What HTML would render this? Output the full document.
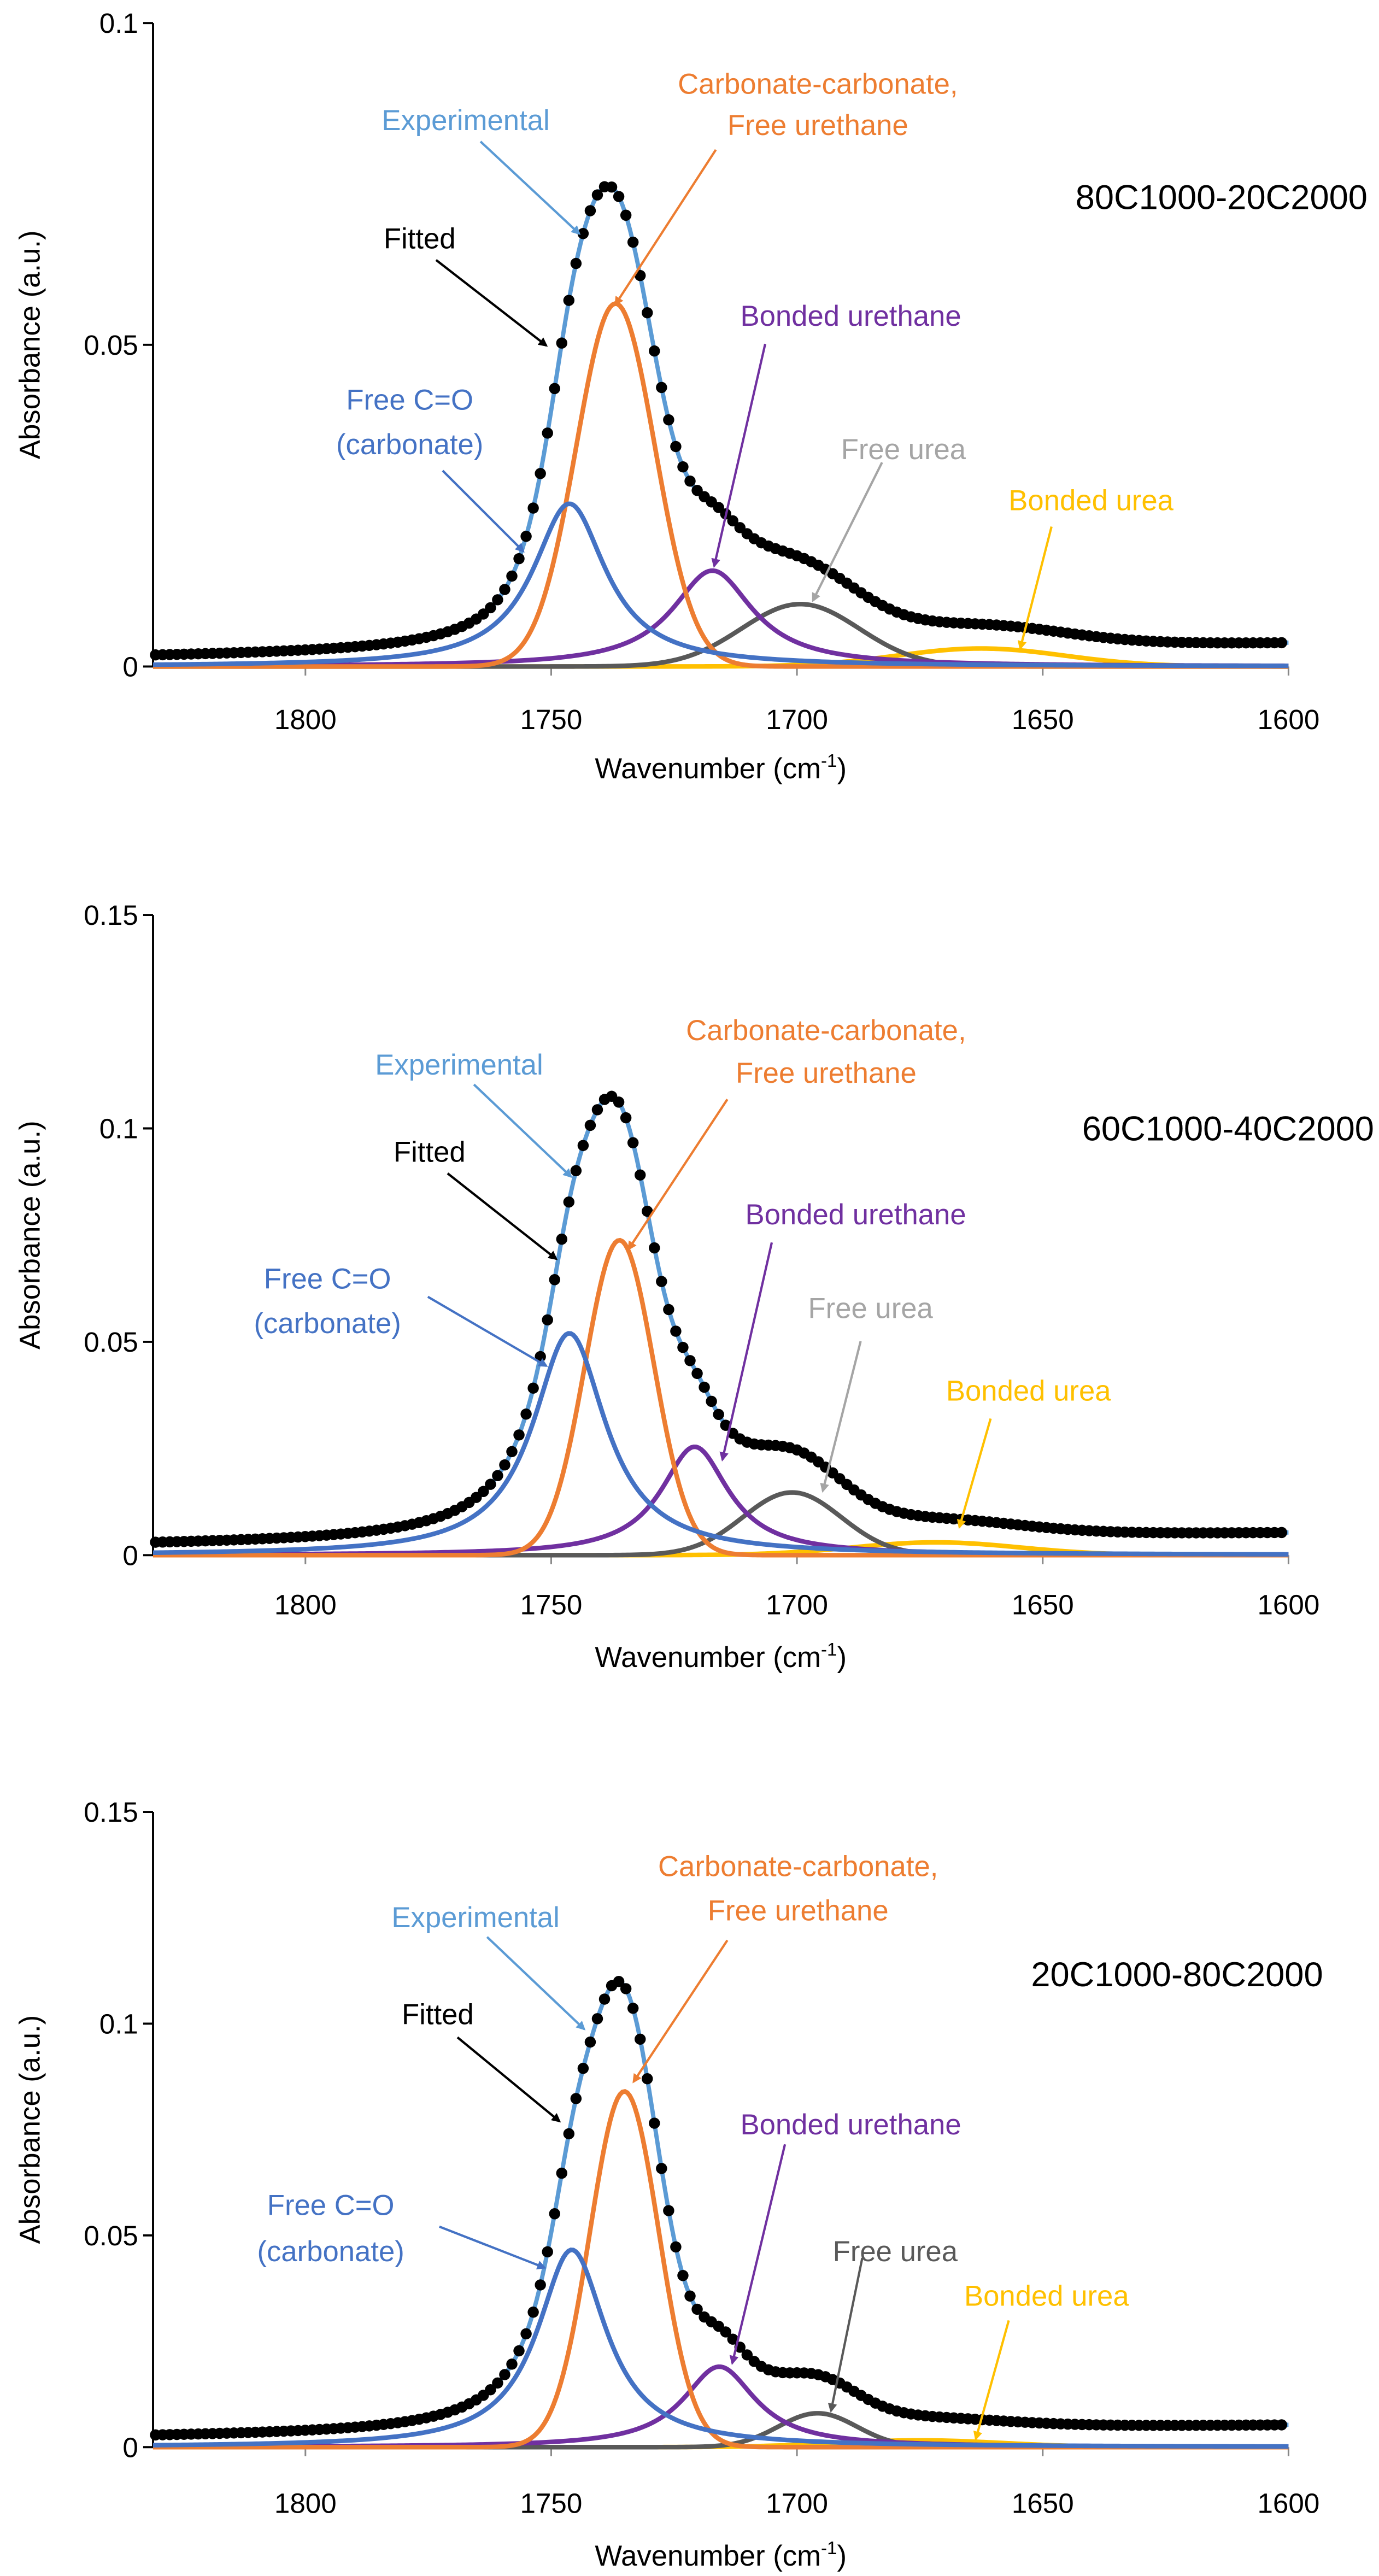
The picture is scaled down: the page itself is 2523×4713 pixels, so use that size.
<!DOCTYPE html>
<html><head><meta charset="utf-8"><style>
html,body{margin:0;padding:0;background:#fff}
svg{display:block}
text{font-family:"Liberation Sans",Arial,sans-serif}
</style></head><body>
<svg id="chart" width="2523" height="4713" viewBox="0 0 838 1565.3" preserveAspectRatio="none" xmlns="http://www.w3.org/2000/svg"></svg>
<script>
// ---- data ----
const sampleNames = ["80C1000-20C2000","60C1000-40C2000","20C1000-80C2000"];
const yMaxes = [0.1, 0.15, 0.15];
const yTicks1 = [0, 0.05, 0.1];
const yTicks23 = [0, 0.05, 0.1, 0.15];
const xTicks = [1800, 1750, 1700, 1650, 1600];
const componentNames = ["Free C=O (carbonate)","Carbonate-carbonate, Free urethane","Bonded urethane","Free urea","Bonded urea"];
// per-panel component peak centers (cm-1)
const centers1 = [1746.3, 1736.9, 1717.2, 1699.3, 1662.6];
const centers2 = [1746.3, 1736.1, 1720.8, 1701, 1671.7];
const centers3 = [1745.8, 1735.1, 1715.8, 1695.8, 1675];
// peak heights (a.u.)
const heights1 = [0.0253, 0.0564, 0.0149, 0.0097, 0.0028];
const heights2 = [0.052, 0.0738, 0.0254, 0.0147, 0.003];
const heights3 = [0.0466, 0.084, 0.019, 0.008, 0.0016];
// peak widths (cm-1)
const widths1 = [9, 8, 10, 12, 17];
const widths2 = [9, 7, 8.4, 10, 17];
const widths3 = [8.5, 7, 9, 8, 17];
// baseline at left / right end
const baseline1 = [0.0014, 0.0035];
const baseline2 = [0.0023, 0.005];
const baseline3 = [0.0023, 0.005];

const colors = ["#4472C4","#ED7D31","#7030A0","#595959","#FFC000"];
const lorentz = [true,false,true,false,false];
const panels = [
 {top:14, bottom:405, ticks:yTicks1, c:centers1, h:heights1, w:widths1, b:baseline1, xl:437, xt:467},
 {top:556, bottom:945, ticks:yTicks23, c:centers2, h:heights2, w:widths2, b:baseline2, xl:975, xt:1007},
 {top:1101, bottom:1487, ticks:yTicks23, c:centers3, h:heights3, w:widths3, b:baseline3, xl:1521, xt:1553}
];
const annos = [
 {exp:[283,73,292,86,352,142], fit:[255,145,265,158,332,210], carb:[497,51,76,435,91,374,185], bu:[517,192,465,209,434,344], fu:[549,273,536,281,494,365], bur:[663,304,639,320,620,394], fco:[249,243,270,269,286,318,335], title:[831,120]},
 {exp:[279,647,288,659,347,715], fit:[261,700,272,713,338,765], carb:[502,626,652,442,668,382,759], bu:[520,738,469,755,439,887], fu:[529,795,523,815,500,906], bur:[625,845,602,862,583,928], fco:[199,777,804,260,788,332,830], title:[835,686]},
 {exp:[289,1165,296,1177,355,1233], fit:[266,1224,278,1238,340,1289], carb:[485,1134,1161,442,1179,385,1265], bu:[517,1291,477,1303,445,1436], fu:[544,1368,524,1372,505,1465], bur:[636,1395,613,1410,593,1482], fco:[201,1340,1368,267,1353,331,1378], title:[804,1200]}
];
const X0=93, X1=783, XMIN=1831, XMAX=1600;
const svg=document.getElementById('chart');
const NS="http://www.w3.org/2000/svg";
function mk(tag,attrs,parent){const e=document.createElementNS(NS,tag);for(const k in attrs)e.setAttribute(k,attrs[k]);(parent||svg).appendChild(e);return e;}
function xs(v){return X0+(XMIN-v)/(XMIN-XMAX)*(X1-X0);}
const defs=mk('defs',{});
colors.concat(["#5B9BD5","#000000","#A5A5A5"]).forEach((c,i)=>{
 const m=mk('marker',{id:'ah'+i,markerWidth:4,markerHeight:4,refX:3.2,refY:2,orient:'auto',markerUnits:'strokeWidth'},defs);
 mk('path',{d:'M0,0 L4,2 L0,4 Z',fill:c},m);
});
function comp(p,i,x){const d=x-p.c[i];
 if(lorentz[i])return p.h[i]/(1+(d/p.w[i])**2);
 return p.h[i]*Math.exp(-0.5*(d/p.w[i])**2);}
function base(p,x){return p.b[0]+(p.b[1]-p.b[0])*(XMIN-x)/(XMIN-XMAX);}
function total(p,x){let s=base(p,x);for(let i=0;i<5;i++)s+=comp(p,i,x);return s;}

panels.forEach((p,pi)=>{
 const g=mk('g',{});
 
 
 const ymax=yMaxes[pi];
 const ys=v=>p.bottom-v/ymax*(p.bottom-p.top);
 const ya=mk('line',{x1:X0,y1:p.top,x2:X0,y2:p.bottom,stroke:'#000','stroke-width':1.3},g);
 
 const xa=mk('line',{x1:X0,y1:p.bottom,x2:X1,y2:p.bottom,stroke:'#888','stroke-width':1},g);
 
 p.ticks.forEach(t=>{
  mk('line',{x1:X0-6,y1:ys(t),x2:X0,y2:ys(t),stroke:'#000','stroke-width':1.3},g);
  const tl=mk('text',{x:X0-9,y:ys(t)+6,'text-anchor':'end','font-size':17},g);
  tl.textContent=String(t);
  
 });
 xTicks.forEach(t=>{
  mk('line',{x1:xs(t),y1:p.bottom,x2:xs(t),y2:p.bottom+5.5,stroke:'#888','stroke-width':1},g);
  const tl=mk('text',{x:xs(t),y:p.xl+6,'text-anchor':'middle','font-size':17},g);
  tl.textContent=String(t);
  
 });
 const xt=mk('text',{x:438,y:p.xt+6,'text-anchor':'middle','font-size':17.5},g);
 xt.innerHTML='Wavenumber  (cm<tspan dy="-7" font-size="11">-1</tspan><tspan dy="7">)</tspan>';
 
 const ymid=(p.top+p.bottom)/2;
 const yt=mk('text',{x:0,y:0,'text-anchor':'middle','font-size':17.5,transform:`translate(24,${ymid}) rotate(-90)`},g);
 yt.textContent='Absorbance  (a.u.)';
 
 [4,3,2,1,0].forEach(i=>{
  let d='';for(let x=XMIN;x>=XMAX;x-=0.5){d+=(d?'L':'M')+xs(x).toFixed(2)+','+ys(comp(p,i,x)).toFixed(2);}
  const pa=mk('path',{d:d,fill:'none',stroke:colors[i],'stroke-width':2.8},g);
  
  
 });
 let d='';for(let x=XMIN;x>=XMAX;x-=0.5){d+=(d?'L':'M')+xs(x).toFixed(2)+','+ys(total(p,x)).toFixed(2);}
 const fl=mk('path',{d:d,fill:'none',stroke:'#5B9BD5','stroke-width':2.6},g);
 
 for(let x=XMIN-0.5;x>=XMAX;x-=1.45){
  const c=mk('circle',{cx:xs(x),cy:ys(total(p,x)),r:3.4,fill:'#000'},g);
  
  
 }
 const a=annos[pi];
 function label(txt,x,y,col,name){const t=mk('text',{x:x,y:y+6,'text-anchor':'middle','font-size':17.5,fill:col},g);t.textContent=txt;
  return t;}
 function arrow(x1,y1,x2,y2,col,mi,name){const l=mk('line',{x1:x1,y1:y1,x2:x2,y2:y2,stroke:col,'stroke-width':1.4,'marker-end':`url(#ah${mi})`},g);
  }
 label('Experimental',a.exp[0],a.exp[1],'#5B9BD5','experimental-label');
 arrow(a.exp[2],a.exp[3],a.exp[4],a.exp[5],'#5B9BD5',5,'experimental-arrow');
 label('Fitted',a.fit[0],a.fit[1],'#000','fitted-label');
 arrow(a.fit[2],a.fit[3],a.fit[4],a.fit[5],'#000',6,'fitted-arrow');
 label('Carbonate-carbonate,',a.carb[0],a.carb[1],'#ED7D31','carbonate-label');
 label('Free urethane',a.carb[0],a.carb[2],'#ED7D31','free-urethane-label');
 arrow(a.carb[3],a.carb[4],a.carb[5],a.carb[6],'#ED7D31',1,'carbonate-arrow');
 label('Bonded  urethane',a.bu[0],a.bu[1],'#7030A0','bonded-urethane-label');
 arrow(a.bu[2],a.bu[3],a.bu[4],a.bu[5],'#7030A0',2,'bonded-urethane-arrow');
 const fuCol=pi===2?'#595959':'#A5A5A5';
 label('Free urea',a.fu[0],a.fu[1],fuCol,'free-urea-label');
 arrow(a.fu[2],a.fu[3],a.fu[4],a.fu[5],fuCol,pi===2?3:7,'free-urea-arrow');
 label('Bonded  urea',a.bur[0],a.bur[1],'#FFC000','bonded-urea-label');
 arrow(a.bur[2],a.bur[3],a.bur[4],a.bur[5],'#FFC000',4,'bonded-urea-arrow');
 label('Free C=O',a.fco[0],a.fco[1],'#4472C4','free-co-label');
 label('(carbonate)',a.fco[0],a.fco[2],'#4472C4','carbonate-paren-label');
 arrow(a.fco[3],a.fco[4],a.fco[5],a.fco[6],'#4472C4',0,'free-co-arrow');
 const tt=mk('text',{x:a.title[0],y:a.title[1]+7,'text-anchor':'end','font-size':21},g);
 tt.textContent=sampleNames[pi];
 
});
</script>
</body></html>
